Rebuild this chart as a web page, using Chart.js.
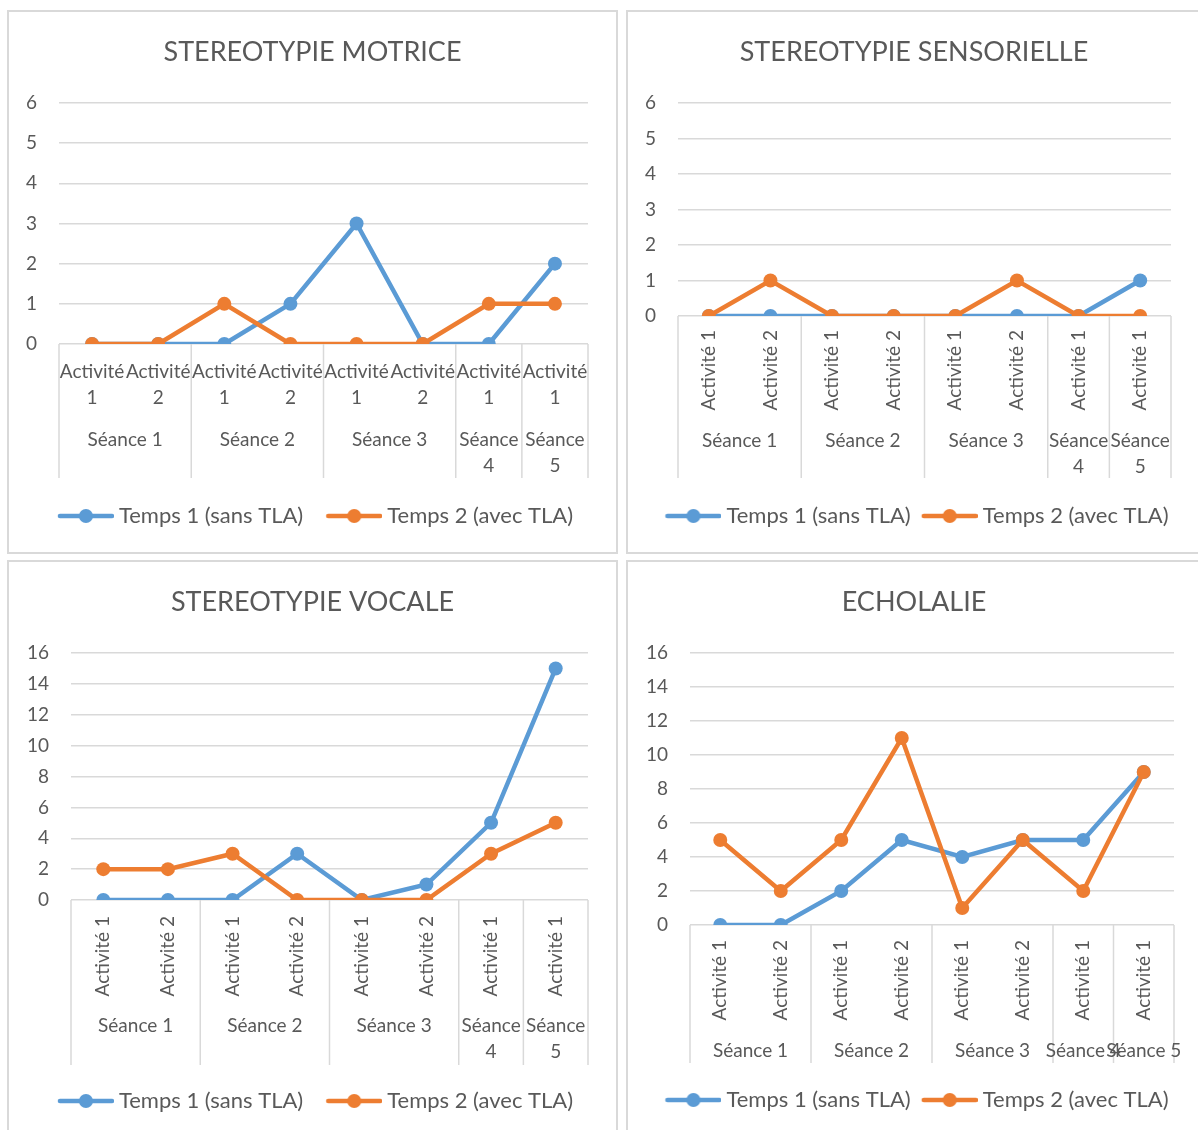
<!DOCTYPE html>
<html lang="fr">
<head>
<meta charset="utf-8">
<script src="https://cdn.jsdelivr.net/npm/chart.js@4.4.1/dist/chart.umd.min.js"></script>
<style>
  html, body { margin: 0; padding: 0; background: #fff; overflow: hidden; }
  body { width: 1198px; height: 1130px; position: relative; }
  .panel { position: absolute; border: 2px solid #d9d9d9; background: #fff; }
  .panel canvas { display: block; }
</style>
</head>
<body>
<div class="panel" style="left:7px;top:10px;"><canvas id="motrice" width="607" height="540"></canvas></div>
<div class="panel" style="left:626px;top:10px;"><canvas id="sensorielle" width="572" height="540"></canvas></div>
<div class="panel" style="left:7px;top:560px;"><canvas id="vocale" width="607" height="571"></canvas></div>
<div class="panel" style="left:626px;top:560px;"><canvas id="echolalie" width="572" height="571"></canvas></div>
<script>
// categories (two levels)
const activites = ['Activité 1', 'Activité 2', 'Activité 1', 'Activité 2', 'Activité 1', 'Activité 2', 'Activité 1', 'Activité 1'];
const seances = ['Séance 1', 'Séance 1', 'Séance 2', 'Séance 2', 'Séance 3', 'Séance 3', 'Séance 4', 'Séance 5'];
const serieNames = ['Temps 1 (sans TLA)', 'Temps 2 (avec TLA)'];

// values
const motriceT1 = [0, 0, 0, 1, 3, 0, 0, 2];
const motriceT2 = [0, 0, 1, 0, 0, 0, 1, 1];
const sensorielleT1 = [0, 0, 0, 0, 0, 0, 0, 1];
const sensorielleT2 = [0, 1, 0, 0, 0, 1, 0, 0];
const vocaleT1 = [0, 0, 0, 3, 0, 1, 5, 15];
const vocaleT2 = [2, 2, 3, 0, 0, 0, 3, 5];
const echolalieT1 = [0, 0, 2, 5, 4, 5, 5, 9];
const echolalieT2 = [5, 2, 5, 11, 1, 5, 2, 9];

const blue = '#5b9bd5';
const orange = '#ed7d31';
const textColor = '#595959';
const gridColor = '#d9d9d9';
const family = 'Lato, sans-serif';
const tickSize = 19;
const titleSize = 27;
const legendSize = 22;
const legendBox = 56;

// legend marker: line with a circle, drawn a bit right of the box centre
function legendIcon(color) {
  const c = document.createElement('canvas');
  c.width = 68; c.height = 16;
  const g = c.getContext('2d');
  g.strokeStyle = color; g.lineWidth = 4.5; g.lineCap = 'round';
  g.beginPath(); g.moveTo(14, 8); g.lineTo(66, 8); g.stroke();
  g.fillStyle = color;
  g.beginPath(); g.arc(40, 8, 7, 0, Math.PI * 2); g.fill();
  return c;
}
const icons = [legendIcon(blue), legendIcon(orange)];

// two-level category axis drawn from the x scale
const catAxis = {
  id: 'catAxis',
  afterDraw(chart, args, opts) {
    const {ctx, scales: {x, y}} = chart;
    const base = y.getPixelForValue(0);
    ctx.save();

    // group the séances
    const groups = [];
    seances.forEach((s, i) => {
      if (i === 0 || s !== seances[i - 1]) groups.push({name: s, start: i, end: i + 1});
      else groups[groups.length - 1].end = i + 1;
    });

    ctx.strokeStyle = gridColor;
    ctx.lineWidth = 1.5;
    const edges = [0].concat(groups.map(g => g.end));
    edges.forEach(i => {
      const px = x.getPixelForValue(i - 0.5);
      ctx.beginPath();
      ctx.moveTo(px, base);
      ctx.lineTo(px, base + opts.sepBottom);
      ctx.stroke();
    });

    ctx.fillStyle = textColor;
    ctx.font = tickSize + 'px ' + family;
    ctx.textBaseline = 'middle';
    activites.forEach((a, i) => {
      const px = x.getPixelForValue(i);
      if (opts.rotate) {
        ctx.save();
        ctx.translate(px, base + opts.actTop);
        ctx.rotate(-Math.PI / 2);
        ctx.textAlign = 'right';
        ctx.fillText(a, 0, 0);
        ctx.restore();
      } else {
        ctx.textAlign = 'center';
        a.split(' ').forEach((part, k) => ctx.fillText(part, px, base + opts.actTop + k * opts.lineGap));
      }
    });

    ctx.textAlign = 'center';
    groups.forEach(g => {
      const cx = x.getPixelForValue((g.start + g.end - 1) / 2);
      const w = x.getPixelForValue(g.end - 0.5) - x.getPixelForValue(g.start - 0.5);
      const lines = (opts.wrap && ctx.measureText(g.name).width > w) ? g.name.split(' ') : [g.name];
      lines.forEach((part, k) => ctx.fillText(part, cx, base + opts.seanceTop + k * opts.lineGap));
    });
    ctx.restore();
  }
};

function makeChart(id, title, t1, t2, yMax, yStep, lay) {
  const canvas = document.getElementById(id);
  const H = canvas.height;
  const padBottom = H - lay.legendY - 10 - legendSize / 2;
  const legendTop = H - padBottom - (legendSize + lay.legendPad + 10);
  const xHeight = legendTop - lay.plotBottom;

  return new Chart(canvas, {
    type: 'line',
    data: {
      labels: activites,
      datasets: [
        {label: serieNames[0], data: t1, borderColor: blue, backgroundColor: blue, order: 1},
        {label: serieNames[1], data: t2, borderColor: orange, backgroundColor: orange, order: 0}
      ]
    },
    options: {
      responsive: false,
      animation: false,
      events: [],
      layout: {padding: {left: 0, right: 0, top: 0, bottom: padBottom}},
      elements: {
        line: {borderWidth: 4.5, tension: 0},
        point: {radius: 7, borderWidth: 0, pointStyle: 'circle'}
      },
      scales: {
        x: {
          offset: true,
          ticks: {display: false},
          grid: {display: false},
          border: {display: false},
          afterFit: s => { s.height = xHeight; }
        },
        y: {
          min: 0,
          max: yMax,
          ticks: {stepSize: yStep, padding: 22, color: textColor, font: {family: family, size: tickSize}},
          grid: {color: gridColor, lineWidth: 1.5, drawTicks: false},
          border: {display: false},
          afterFit: s => { s.width = lay.plotLeft; }
        },
        // empty right axis, only keeps the right margin of the plot
        y2: {
          position: 'right',
          ticks: {display: false},
          grid: {display: false},
          border: {display: false},
          afterFit: s => { s.width = canvas.width - lay.plotRight; }
        }
      },
      plugins: {
        title: {
          display: true,
          text: title,
          color: textColor,
          font: {family: family, size: titleSize, weight: 'normal', lineHeight: 1},
          padding: {top: 40.5 - titleSize / 2, bottom: 50.5 - titleSize / 2}
        },
        legend: {
          position: 'bottom',
          labels: {
            usePointStyle: true,
            pointStyleWidth: legendBox,
            padding: lay.legendPad,
            color: textColor,
            font: {family: family, size: legendSize},
            sort: (a, b) => a.datasetIndex - b.datasetIndex,
            generateLabels: chart => {
              const items = Chart.defaults.plugins.legend.labels.generateLabels(chart);
              items.forEach(it => { it.pointStyle = icons[it.datasetIndex]; });
              return items;
            }
          }
        },
        tooltip: {enabled: false},
        catAxis: lay.cat
      }
    },
    plugins: [catAxis]
  });
}

makeChart('motrice', 'STEREOTYPIE MOTRICE', motriceT1, motriceT2, 6, 1, {
  plotLeft: 50, plotRight: 579, plotBottom: 332, legendY: 504, legendPad: 17,
  cat: {rotate: false, actTop: 28, lineGap: 26, seanceTop: 96, wrap: true, sepBottom: 134}
});
makeChart('sensorielle', 'STEREOTYPIE SENSORIELLE', sensorielleT1, sensorielleT2, 6, 1, {
  plotLeft: 50, plotRight: 543, plotBottom: 304, legendY: 504, legendPad: 5,
  cat: {rotate: true, actTop: 14, lineGap: 26, seanceTop: 125, wrap: true, sepBottom: 162}
});
makeChart('vocale', 'STEREOTYPIE VOCALE', vocaleT1, vocaleT2, 16, 2, {
  plotLeft: 62, plotRight: 579, plotBottom: 338, legendY: 539, legendPad: 17,
  cat: {rotate: true, actTop: 16, lineGap: 26, seanceTop: 125.5, wrap: true, sepBottom: 165}
});
makeChart('echolalie', 'ECHOLALIE', echolalieT1, echolalieT2, 16, 2, {
  plotLeft: 62, plotRight: 546, plotBottom: 363, legendY: 538, legendPad: 5,
  cat: {rotate: true, actTop: 15, lineGap: 26, seanceTop: 126, wrap: false, sepBottom: 138}
});
</script>
</body>
</html>
